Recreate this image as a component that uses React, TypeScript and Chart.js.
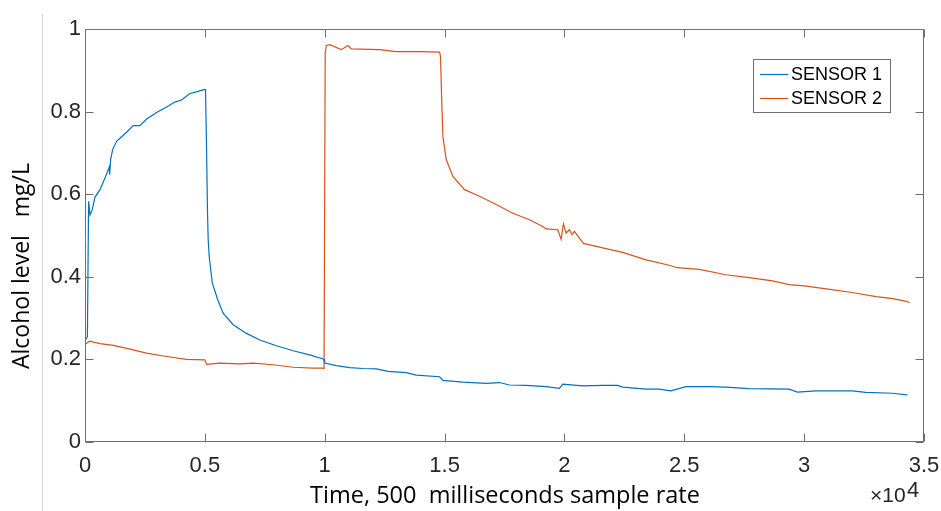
import React, { useEffect, useRef } from "react";
import { Chart, registerables } from "chart.js";

Chart.register(...registerables);

const sensor1X = [0, 42, 100, 150, 208, 300, 417, 625, 833, 1014, 1030, 1069, 1153, 1319, 1528, 1736, 2014, 2292, 2569, 2986, 3403, 3750, 4028, 4375, 4722, 4958, 5028, 5069, 5111, 5139, 5181, 5310, 5540, 5764, 6181, 6736, 7292, 7986, 8681, 9375, 9931, 9972, 10000, 10486, 11042, 11597, 12153, 12639, 13403, 13819, 14792, 14931, 15764, 16736, 17292, 17708, 18403, 19236, 19792, 19931, 20764, 21597, 22222, 22431, 23403, 23958, 24444, 25069, 26042, 26736, 27708, 29375, 29722, 30486, 32014, 32569, 33681, 34306];
const sensor1Y = [0.25, 0.249, 0.255, 0.583, 0.55, 0.562, 0.593, 0.611, 0.639, 0.666, 0.647, 0.684, 0.708, 0.728, 0.739, 0.75, 0.766, 0.766, 0.782, 0.798, 0.811, 0.823, 0.828, 0.844, 0.849, 0.853, 0.853, 0.716, 0.554, 0.49, 0.449, 0.385, 0.344, 0.312, 0.284, 0.263, 0.247, 0.233, 0.221, 0.211, 0.201, 0.2, 0.191, 0.185, 0.18, 0.178, 0.177, 0.171, 0.168, 0.162, 0.158, 0.149, 0.145, 0.142, 0.144, 0.138, 0.137, 0.134, 0.13, 0.14, 0.136, 0.137, 0.137, 0.133, 0.128, 0.128, 0.124, 0.134, 0.134, 0.133, 0.129, 0.128, 0.121, 0.124, 0.124, 0.12, 0.118, 0.114];

const sensor2X = [0, 69, 181, 625, 1181, 1875, 2569, 3403, 4236, 5000, 5069, 5625, 6458, 7014, 7847, 8681, 9514, 9903, 9972, 10020, 10069, 10208, 10694, 10972, 11111, 12292, 12986, 13958, 14792, 14830, 14880, 14931, 15069, 15347, 15833, 16458, 17153, 17847, 18542, 19097, 19236, 19722, 19861, 19958, 20069, 20208, 20319, 20417, 20792, 21597, 22431, 23403, 24375, 24700, 25625, 26736, 27708, 28681, 29375, 30000, 31000, 32000, 33000, 33700, 34300, 34400];
const sensor2Y = [0.236, 0.239, 0.244, 0.238, 0.234, 0.225, 0.215, 0.207, 0.2, 0.199, 0.188, 0.191, 0.189, 0.191, 0.187, 0.181, 0.179, 0.179, 0.178, 0.94, 0.96, 0.962, 0.95, 0.96, 0.952, 0.95, 0.945, 0.945, 0.944, 0.934, 0.829, 0.74, 0.684, 0.643, 0.611, 0.595, 0.575, 0.554, 0.538, 0.522, 0.516, 0.514, 0.491, 0.528, 0.506, 0.514, 0.502, 0.51, 0.481, 0.47, 0.459, 0.441, 0.428, 0.422, 0.418, 0.405, 0.398, 0.39, 0.381, 0.378, 0.37, 0.362, 0.352, 0.347, 0.34, 0.337];

const seriesLabels = ["SENSOR 1", "SENSOR 2"];
const seriesColors = ["#0072BD", "#D95319"];
const xTitle = "Time, 500  milliseconds sample rate";
const yTitle = "Alcohol level   mg/L";
const xMin = 0, xMax = 35000, xStep = 5000, xExponent = 4;
const yMin = 0, yMax = 1, yStep = 0.2;

const W = 941, H = 511;
const AREA = { left: 85, top: 29, right: 924, bottom: 442 };

const decorPlugin = {
  id: "decor",
  beforeDraw(chart: any) {
    const ctx = chart.ctx;
    ctx.save();
    ctx.fillStyle = "#ffffff";
    ctx.fillRect(0, 0, W, H);
    ctx.strokeStyle = "#d6d6d6";
    ctx.lineWidth = 1;
    ctx.beginPath();
    ctx.moveTo(42.5, 14);
    ctx.lineTo(42.5, H);
    ctx.stroke();
    ctx.restore();
  },
  afterDraw(chart: any) {
    const ctx = chart.ctx;
    const a = chart.chartArea;
    const xs = chart.scales.x;
    const ys = chart.scales.y;
    ctx.save();
    ctx.strokeStyle = "#6f6f6f";
    ctx.lineWidth = 1;
    const L = Math.round(a.left) + 0.5, R = Math.round(a.right) - 0.5;
    const T = Math.round(a.top) + 0.5, B = Math.round(a.bottom) - 0.5;
    ctx.strokeRect(L, T, R - L, B - T);
    const tl = 8;
    ctx.beginPath();
    xs.ticks.forEach((t: any) => {
      const px = Math.round(xs.getPixelForValue(t.value)) + 0.5;
      ctx.moveTo(px, B); ctx.lineTo(px, B - tl);
      ctx.moveTo(px, T); ctx.lineTo(px, T + tl);
    });
    ys.ticks.forEach((t: any) => {
      const py = Math.round(ys.getPixelForValue(t.value)) + 0.5;
      ctx.moveTo(L, py); ctx.lineTo(L + tl, py);
      ctx.moveTo(R, py); ctx.lineTo(R - tl, py);
    });
    ctx.stroke();

    // axis titles
    ctx.fillStyle = "#000000";
    ctx.font = "23.5px 'Open Sans'";
    ctx.textAlign = "center";
    ctx.textBaseline = "alphabetic";
    ctx.fillText(xTitle, 505, 503);
    ctx.save();
    ctx.font = "23px 'Open Sans'";
    ctx.translate(29, 266);
    ctx.rotate(-Math.PI / 2);
    ctx.fillText(yTitle, 0, 0);
    ctx.restore();

    // exponent label
    ctx.fillStyle = "#262626";
    ctx.font = "21px 'Liberation Sans'";
    ctx.textAlign = "left";
    ctx.fillText("\u00d710", 870, 502);
    ctx.font = "22px 'Liberation Sans'";
    ctx.fillText(String(xExponent), 907, 497);

    // legend
    const lx = 753.5, ly = 59.5, lw = 137, lh = 53;
    ctx.fillStyle = "#ffffff";
    ctx.fillRect(lx, ly, lw, lh);
    ctx.strokeStyle = "#6f6f6f";
    ctx.strokeRect(lx, ly, lw, lh);
    ctx.font = "18px 'Liberation Sans'";
    ctx.textBaseline = "middle";
    chart.data.datasets.forEach((ds: any, i: number) => {
      const y = 74 + i * 24;
      ctx.strokeStyle = ds.borderColor;
      ctx.lineWidth = 1.2;
      ctx.beginPath();
      ctx.moveTo(760, y + 0.5);
      ctx.lineTo(788, y + 0.5);
      ctx.stroke();
      ctx.fillStyle = "#000000";
      ctx.fillText(ds.label, 791, y + 1);
    });
    ctx.restore();
  },
};

export default function App() {
  const ref = useRef<HTMLCanvasElement | null>(null);
  useEffect(() => {
    document.body.style.margin = "0";
    const canvas = ref.current!;
    const chart = new Chart(canvas, {
      type: "line",
      data: {
        datasets: [
          {
            label: seriesLabels[0],
            data: sensor1X.map((x, i) => ({ x, y: sensor1Y[i] })),
            borderColor: seriesColors[0],
            borderWidth: 1.2,
            pointRadius: 0,
            tension: 0,
            fill: false,
          },
          {
            label: seriesLabels[1],
            data: sensor2X.map((x, i) => ({ x, y: sensor2Y[i] })),
            borderColor: seriesColors[1],
            borderWidth: 1.2,
            pointRadius: 0,
            tension: 0,
            fill: false,
          },
        ],
      },
      options: {
        animation: false,
        responsive: false,
        devicePixelRatio: 1,
        layout: { padding: { left: 0, top: AREA.top, right: W - AREA.right, bottom: 0 } },
        plugins: { legend: { display: false }, tooltip: { enabled: false } },
        scales: {
          x: {
            type: "linear",
            min: xMin,
            max: xMax,
            grid: { display: false, drawTicks: false },
            border: { display: false },
            ticks: {
              stepSize: xStep,
              padding: 11,
              maxRotation: 0,
              color: "#262626",
              font: { family: "'Liberation Sans'", size: 22 },
              callback: (v: any) => String(Number((v / Math.pow(10, xExponent)).toFixed(2))),
            },
            afterFit: (s: any) => {
              s.height = H - AREA.bottom;
              s.paddingLeft = 0;
              s.paddingRight = 0;
            },
          },
          y: {
            type: "linear",
            min: yMin,
            max: yMax,
            grid: { display: false, drawTicks: false },
            border: { display: false },
            ticks: {
              stepSize: yStep,
              padding: 4,
              color: "#262626",
              font: { family: "'Liberation Sans'", size: 22 },
              callback: (v: any) => String(Number(Number(v).toFixed(1))),
            },
            afterFit: (s: any) => {
              s.width = AREA.left;
              s.paddingTop = 0;
              s.paddingBottom = 0;
            },
          },
        },
      },
      plugins: [decorPlugin],
    });
    return () => chart.destroy();
  }, []);
  return (
    <div style={{ position: "absolute", left: 0, top: 0, width: W, height: H }}>
      <canvas ref={ref} width={W} height={H} style={{ width: W, height: H, display: "block" }} />
    </div>
  );
}
